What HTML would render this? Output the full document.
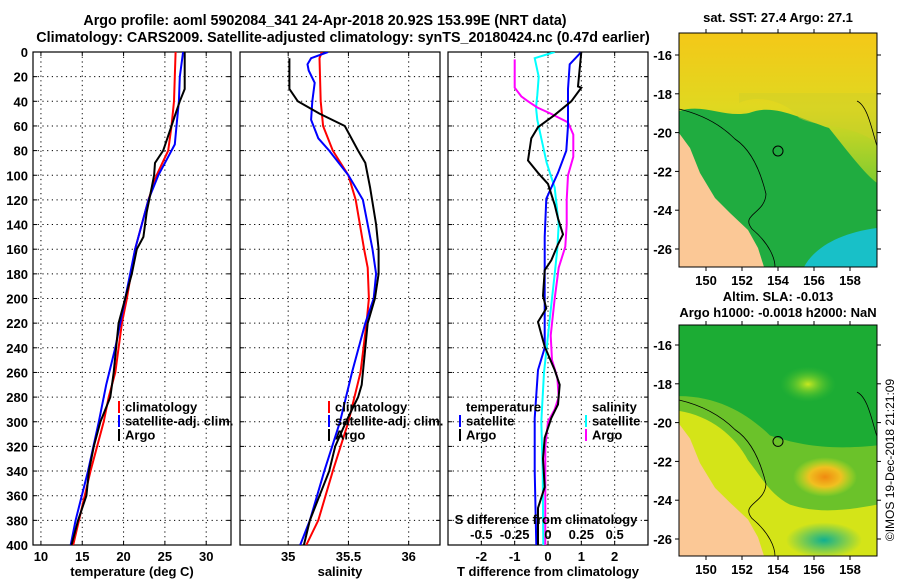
<!DOCTYPE html>
<html><head><meta charset="utf-8"><style>
body{margin:0;background:#fff;}
svg{display:block;font-family:"Liberation Sans",sans-serif;font-weight:bold;}
</style></head><body>
<svg id="c" width="900" height="580" viewBox="0 0 900 580" xmlns="http://www.w3.org/2000/svg">
<defs>
<clipPath id="cp1"><rect x="33" y="52" width="198" height="493"/></clipPath>
<clipPath id="cp2"><rect x="240" y="52" width="200" height="493"/></clipPath>
<clipPath id="cp3"><rect x="448" y="52" width="200" height="493"/></clipPath>
<clipPath id="cml"><rect x="0" y="0" width="198" height="234"/></clipPath>
<radialGradient id="orng"><stop offset="0" stop-color="#f08a10"/><stop offset="0.5" stop-color="#f0c020"/><stop offset="1" stop-color="#d8e820" stop-opacity="0"/></radialGradient>
<radialGradient id="ylw"><stop offset="0" stop-color="#c8e820"/><stop offset="1" stop-color="#40c030" stop-opacity="0"/></radialGradient>
<radialGradient id="dk"><stop offset="0" stop-color="#10b090"/><stop offset="1" stop-color="#10b090" stop-opacity="0"/></radialGradient>
<linearGradient id="sstTop" x1="0" y1="0" x2="0" y2="1"><stop offset="0" stop-color="#f4c818"/><stop offset="0.5" stop-color="#e0d820"/><stop offset="1" stop-color="#80cc30"/></linearGradient>
</defs>
<g font-size="14.3" text-anchor="middle">
<text x="325" y="25">Argo profile: aoml 5902084_341 24-Apr-2018 20.92S 153.99E (NRT data)</text>
<text x="343" y="42">Climatology: CARS2009. Satellite-adjusted climatology: synTS_20180424.nc (0.47d earlier)</text>
</g>
<g id="g1"></g>
<g id="g2"></g>
<g id="g3"></g>

<g>
<text x="778" y="22" font-size="13" text-anchor="middle">sat. SST: 27.4 Argo: 27.1</text>
<g transform="translate(679,33)"><g clip-path="url(#cml)">
<rect x="0" y="0" width="198" height="234" fill="#20ac40"/>
<path d="M0,0 H198 V150 C185,140 170,120 150,95 C120,85 95,70 70,80 C45,85 25,70 0,78 Z" fill="url(#sstTop)"/>
<path d="M60,70 C80,60 110,70 120,85 C140,95 170,90 198,110 V60 H60Z" fill="#d0d028" opacity="0.5"/>
<path d="M125,234 C135,215 160,200 198,195 V234Z" fill="#18c0c8"/>
<path d="M0,100 L11,115 L21,140 L36,165 L51,180 L69,197 L79,215 L85,234 L0,234Z" fill="#fbc896"/>
<path d="M0,76 C21,81 41,91 56,106 C71,116 81,136 87,161 C86,181 61,181 73,196 C91,211 96,226 96,234" fill="none" stroke="#000" stroke-width="0.8"/>
<path d="M178,68 C189,73 193,98 198,113" fill="none" stroke="#000" stroke-width="0.8"/>
<circle cx="99" cy="118" r="5" fill="none" stroke="#000"/>
</g></g>
<rect x="679" y="33" width="198" height="234" fill="none" stroke="#000"/>
</g>
<g>
<text x="778" y="301" font-size="13" text-anchor="middle">Altim. SLA: -0.013</text>
<text x="778" y="317" font-size="13" text-anchor="middle">Argo h1000: -0.0018 h2000: NaN</text>
<g transform="translate(679,325) scale(1,0.987)"><g clip-path="url(#cml)">
<rect x="0" y="0" width="198" height="234" fill="#1cac34"/>
<ellipse cx="129" cy="60" rx="28" ry="18" fill="url(#ylw)"/>
<path d="M0,72 C41,72 71,92 91,112 C121,122 151,127 198,122 V234 H0Z" fill="#80c828" opacity="0.8"/>
<path d="M0,87 C31,92 56,112 69,137 C81,152 91,172 111,182 C141,192 171,187 198,182 V234 H0Z" fill="#d4e418"/>
<ellipse cx="146" cy="154" rx="32" ry="20" fill="url(#orng)"/>
<ellipse cx="145" cy="218" rx="38" ry="18" fill="url(#dk)"/>
<path d="M0,100 L11,115 L21,140 L36,165 L51,180 L69,197 L79,215 L85,234 L0,234Z" fill="#fbc896"/>
<path d="M0,76 C21,81 41,91 56,106 C71,116 81,136 87,161 C86,181 61,181 73,196 C91,211 96,226 96,234" fill="none" stroke="#000" stroke-width="0.8"/>
<path d="M178,68 C189,73 193,98 198,113" fill="none" stroke="#000" stroke-width="0.8"/>
<circle cx="99" cy="118" r="5" fill="none" stroke="#000"/>
</g></g>
<rect x="679" y="325" width="198" height="231" fill="none" stroke="#000"/>
</g>
<g id="mapaxes"></g>
<text transform="translate(894,460) rotate(-90)" font-size="12" font-weight="normal" text-anchor="middle">©IMOS 19-Dec-2018 21:21:09</text>
</svg>
<script>
const depthTicks=[0,20,40,60,80,100,120,140,160,180,200,220,240,260,280,300,320,340,360,380,400];
const tempTicks=[10,15,20,25,30];
const salTicks=[35,35.5,36];
const tdiffTicks=[-2,-1,0,1,2];
const sdiffTicks=[-0.5,-0.25,0,0.25,0.5];
const sdiffLabels=["-0.5","-0.25","0","0.25","0.5"];
const tempClimDepth=[0,40,60,80,100,120,160,200,220,260,280,300,340,360,400];
const tempClim=[26.3,26.1,25.8,25.4,24.0,23.0,21.4,20.4,19.8,19.0,18.2,17.6,16.0,15.3,13.9];
const tempSatDepth=[0,20,40,60,75,85,100,120,160,200,240,270,300,340,380,400];
const tempSat=[27.2,26.8,26.7,26.4,26.2,25.4,24.2,23.0,21.4,20.2,19.0,17.9,17.0,15.7,14.2,13.6];
const tempArgoDepth=[0,30,40,50,60,80,90,100,110,130,150,160,180,200,220,240,260,280,300,320,340,360,380,400];
const tempArgo=[27.4,27.4,26.8,26.3,25.8,24.8,23.8,23.7,23.4,22.8,22.4,21.6,21.0,20.2,19.4,19.1,18.8,18.4,17.2,16.4,15.8,15.5,14.5,13.7];
const salClimDepth=[0,5,40,60,80,100,120,160,175,200,220,260,300,340,380,400];
const salClim=[35.28,35.26,35.27,35.29,35.37,35.50,35.56,35.63,35.66,35.67,35.65,35.60,35.50,35.37,35.25,35.15];
const salSatDepth=[0,5,10,15,25,40,55,70,80,100,120,160,180,200,220,260,300,340,380,400];
const salSat=[35.33,35.19,35.16,35.17,35.22,35.20,35.19,35.25,35.34,35.50,35.62,35.70,35.73,35.71,35.64,35.53,35.43,35.30,35.18,35.10];
const salArgoDepth=[5,30,40,50,60,80,90,110,140,160,180,200,220,240,270,280,300,320,340,360,380,400];
const salArgo=[35.01,35.01,35.08,35.26,35.47,35.58,35.64,35.68,35.73,35.75,35.75,35.72,35.66,35.64,35.61,35.58,35.48,35.39,35.34,35.26,35.18,35.13];
const tdSatDepth=[0,10,30,60,80,98,110,119,150,200,240,258,297,340,400];
const tdSat=[1.0,0.65,0.6,0.6,0.55,0.3,0.1,-0.05,-0.1,-0.1,-0.1,-0.3,-0.4,-0.4,-0.35];
const tdArgoDepth=[0,28,29,40,51,61,70,88,98,107,124,135,148,156,169,177,198,208,219,229,239,258,270,286,297,313,330,353,370,400];
const tdArgo=[1.0,0.9,1.0,0.7,0.2,-0.3,-0.5,-0.6,-0.3,0,0.2,0.3,0.45,0.3,0.1,-0.1,-0.15,-0.05,-0.3,-0.2,-0.1,0.2,0.35,0.3,0.1,-0.1,-0.15,-0.1,-0.3,-0.3];
const sdSatDepth=[0,5,20,35,45,55,70,90,100,110,120,140,160,180,220,240,260,300,340,400];
const sdSat=[0.05,-0.1,-0.07,-0.08,-0.09,-0.08,-0.05,-0.01,0.02,0.05,0.06,0.08,0.07,0.05,0.01,-0.01,-0.03,-0.05,-0.04,-0.035];
const sdArgoDepth=[6,29,36,40,45,50,57,67,85,100,120,140,158,175,200,230,250,264,280,290,300,320,360,400];
const sdArgo=[-0.25,-0.25,-0.2,-0.15,-0.08,0.02,0.15,0.19,0.19,0.15,0.14,0.14,0.13,0.08,0.05,0.02,0.03,0.07,0.08,0.05,0,-0.02,-0.02,-0.02];
const lonTicks=[150,152,154,156,158];
const latTicks=[-16,-18,-20,-22,-24,-26];

const NS='http://www.w3.org/2000/svg';
function mk(parent,tag,attrs){const e=document.createElementNS(NS,tag);for(const k in attrs)e.setAttribute(k,attrs[k]);parent.appendChild(e);return e;}
const Y0=52,Y1=545;
function yD(d){return Y0+(d/400)*(Y1-Y0);}
function lin(d0,d1,r0,r1){return v=>r0+(v-d0)/(d1-d0)*(r1-r0);}
const xT=lin(9.04,33,33,231), xS=lin(34.6,36.26,240,440), xTD=lin(-3,3,448,648), xSD=v=>xTD(v*4);

function panel(g,x0,x1,ticks,xs,labels,title,showDepth){
  const gr=mk(g,'g',{});
  
  
  depthTicks.forEach(d=>{if(d>0&&d<400)mk(gr,'line',{x1:x0,x2:x1,y1:yD(d),y2:yD(d),stroke:'#000','stroke-dasharray':'1.2,3.5','stroke-width':1});});
  ticks.forEach(t=>{mk(gr,'line',{x1:xs(t),x2:xs(t),y1:Y0,y2:Y1,stroke:'#000','stroke-dasharray':'1.2,3.5','stroke-width':1});});
  const ax=mk(g,'g',{});
  
  
  ticks.forEach((t,i)=>{mk(ax,'line',{x1:xs(t),x2:xs(t),y1:Y1,y2:Y1-4,stroke:'#000'});mk(ax,'line',{x1:xs(t),x2:xs(t),y1:Y0,y2:Y0+4,stroke:'#000'});
    const tx=mk(ax,'text',{x:xs(t),y:Y1+16,'font-size':13,'text-anchor':'middle'});tx.textContent=labels?labels[i]:t;});
  if(title){const tt=mk(ax,'text',{x:(x0+x1)/2,y:Y1+31,'font-size':13,'text-anchor':'middle'});
    
    
    tt.textContent=title;}
  if(showDepth){const ya=mk(g,'g',{});
    
    
    depthTicks.forEach(d=>{const t=mk(ya,'text',{x:28,y:yD(d)+5,'font-size':13,'text-anchor':'end'});t.textContent=d;});}
  depthTicks.forEach(d=>{mk(g,'line',{x1:x0,x2:x0+4,y1:yD(d),y2:yD(d),stroke:'#000'});mk(g,'line',{x1:x1,x2:x1-4,y1:yD(d),y2:yD(d),stroke:'#000'});});
  mk(g,'rect',{x:x0,y:Y0,width:x1-x0,height:Y1-Y0,fill:'none',stroke:'#000','stroke-width':1.2});
}
function series(g,depths,vals,xs,color,w,name,cp){
  const p=mk(g,'path',{d:depths.map((d,i)=>(i?'L':'M')+xs(vals[i]).toFixed(1)+','+yD(d).toFixed(1)).join(''),fill:'none',stroke:color,'stroke-width':w,'clip-path':'url(#'+cp+')'});
  
  
}
function legend(g,x,y,items){
  const lg=mk(g,'g',{});
  
  
  items.forEach((it,i)=>{
    if(it[0]){mk(lg,'rect',{x:x,y:y+i*14-6,width:2,height:12,fill:it[0]});}
    const t=mk(lg,'text',{x:x+7,y:y+i*14+4.5,'font-size':13});t.textContent=it[1];
  });
}
const g1=document.getElementById('g1'),g2=document.getElementById('g2'),g3=document.getElementById('g3');
panel(g1,33,231,tempTicks,xT,null,'temperature (deg C)',true);
series(g1,tempClimDepth,tempClim,xT,'#f00',2,'temp-climatology-line','cp1');
series(g1,tempSatDepth,tempSat,xT,'#00f',2,'temp-satellite-line','cp1');
series(g1,tempArgoDepth,tempArgo,xT,'#000',2,'temp-argo-line','cp1');
legend(g1,118,407,[['#f00','climatology'],['#00f','satellite-adj. clim.'],['#000','Argo']]);

panel(g2,240,440,salTicks,xS,['35','35.5','36'],'salinity',false);
series(g2,salClimDepth,salClim,xS,'#f00',2,'sal-climatology-line','cp2');
series(g2,salSatDepth,salSat,xS,'#00f',2,'sal-satellite-line','cp2');
series(g2,salArgoDepth,salArgo,xS,'#000',2,'sal-argo-line','cp2');
legend(g2,328,407,[['#f00','climatology'],['#00f','satellite-adj. clim.'],['#000','Argo']]);

panel(g3,448,648,tdiffTicks,xTD,null,'T difference from climatology',false);
series(g3,sdSatDepth,sdSat,xSD,'#0ff',2,'sdiff-satellite-line','cp3');
series(g3,sdArgoDepth,sdArgo,xSD,'#f0f',2,'sdiff-argo-line','cp3');
series(g3,tdSatDepth,tdSat,xTD,'#00f',2,'tdiff-satellite-line','cp3');
series(g3,tdArgoDepth,tdArgo,xTD,'#000',2,'tdiff-argo-line','cp3');
legend(g3,459,407,[[null,'temperature'],['#00f','satellite'],['#000','Argo']]);
legend(g3,585,407,[[null,'salinity'],['#0ff','satellite'],['#f0f','Argo']]);
const sax=mk(g3,'g',{});


const st=mk(sax,'text',{x:546,y:524,'font-size':13,'text-anchor':'middle'});st.textContent='S difference from climatology';
sdiffTicks.forEach((t,i)=>{const e=mk(sax,'text',{x:xSD(t),y:539,'font-size':13,'text-anchor':'middle'});e.textContent=sdiffLabels[i];});

const ma=document.getElementById('mapaxes');
const lonX=lin(150,158,706,850);
const latY1=lin(-16,-26,55,249), latY2=lin(-16,-26,345,539);
[[33,267,latY1],[325,556,latY2]].forEach(([top,bot,ly])=>{
  lonTicks.forEach(l=>{mk(ma,'line',{x1:lonX(l),x2:lonX(l),y1:bot,y2:bot+4,stroke:'#000'});mk(ma,'line',{x1:lonX(l),x2:lonX(l),y1:top,y2:top-4,stroke:'#000'});
    const t=mk(ma,'text',{x:lonX(l),y:bot+18,'font-size':13,'text-anchor':'middle'});t.textContent=l;});
  latTicks.forEach(l=>{mk(ma,'line',{x1:877,x2:881,y1:ly(l),y2:ly(l),stroke:'#000'});mk(ma,'line',{x1:679,x2:675,y1:ly(l),y2:ly(l),stroke:'#000'});
    const t=mk(ma,'text',{x:672,y:ly(l)+5,'font-size':13,'text-anchor':'end'});t.textContent=l;});
});
</script>
</body></html>
